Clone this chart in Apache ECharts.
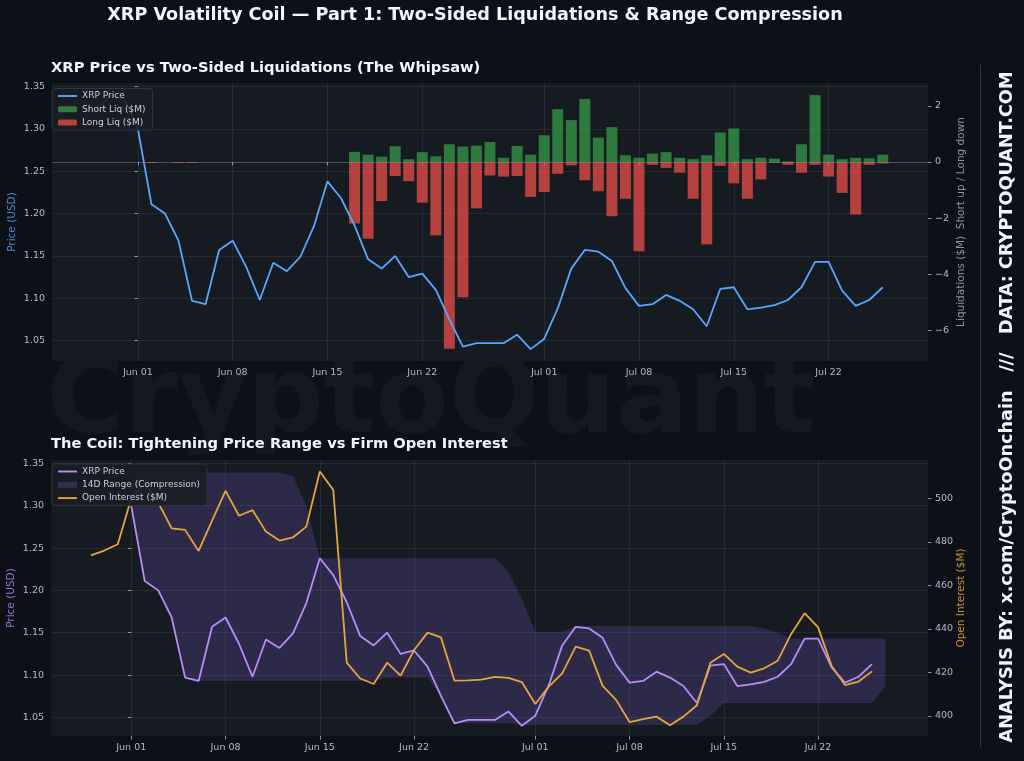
<!DOCTYPE html>
<html>
<head>
<meta charset="utf-8">
<title>XRP Volatility Coil</title>
<script src="https://cdn.jsdelivr.net/npm/echarts@6.0.0/dist/echarts.min.js"></script>
<style>
  html, body { margin: 0; padding: 0; background: #0d1117; }
  #chart { width: 1024px; height: 761px; }
</style>
</head>
<body>
<div id="chart"></div>
<script>
  // x values are days counted from Jun 01 (day 0)
  // price and open interest start on May 29
  const firstDay = -3;
  const price = [
    1.325, 1.339, 1.335,
    1.300, 1.211, 1.200, 1.168, 1.097, 1.093, 1.157, 1.168, 1.137, 1.098,
    1.142, 1.132, 1.149, 1.185, 1.238, 1.218, 1.186, 1.146, 1.135, 1.150,
    1.125, 1.129, 1.110, 1.075, 1.043, 1.047, 1.047, 1.047, 1.057, 1.040,
    1.052, 1.088, 1.135, 1.157, 1.155, 1.144, 1.112, 1.091, 1.093, 1.104,
    1.097, 1.087, 1.067, 1.111, 1.113, 1.087, 1.089, 1.092, 1.098, 1.113,
    1.143, 1.143, 1.109, 1.091, 1.098, 1.113
  ];
  const openInterest = [
    473.8, 476.0, 478.9,
    500.0, 506.9, 498.0, 486.2, 485.5, 475.8, 489.7, 503.4, 492.0, 494.6,
    484.7, 480.6, 482.0, 487.0, 512.3, 503.8, 424.5, 417.2, 414.7, 424.5,
    418.5, 430.3, 438.3, 436.1, 416.2, 416.4, 416.7, 418.0, 417.5, 415.6,
    405.5, 413.5, 419.6, 431.9, 430.0, 413.8, 407.4, 397.2, 398.5, 399.7,
    395.7, 399.7, 404.9, 424.5, 428.5, 422.7, 419.9, 421.9, 425.4, 437.7,
    447.2, 440.7, 423.0, 414.2, 415.8, 420.5
  ];

  // liquidations ($M), Jun 01 .. Jul 26; longs are drawn downward
  const shortLiq = [
    0, 0, 0, 0, 0, 0, 0, 0, 0, 0, 0, 0, 0, 0, 0, 0,
    0.36, 0.26, 0.19, 0.56, 0.10, 0.35, 0.20, 0.63, 0.55, 0.58, 0.71, 0.15, 0.57, 0.26,
    0.95, 1.88, 1.49, 2.24, 0.87, 1.24, 0.24, 0.15, 0.30, 0.35, 0.15, 0.10, 0.24,
    1.05, 1.19, 0.10, 0.15, 0.12, 0.02, 0.63, 2.38, 0.26, 0.10, 0.15, 0.13, 0.26
  ];
  const longLiq = [
    0, 0.03, 0, 0.03, 0.03, 0, 0, 0, 0, 0, 0, 0, 0, 0, 0, 0,
    2.19, 2.73, 1.39, 0.50, 0.68, 1.45, 2.61, 6.64, 4.81, 1.65, 0.48, 0.52, 0.50, 1.24,
    1.07, 0.42, 0.12, 0.65, 1.04, 1.93, 1.31, 3.18, 0.10, 0.21, 0.38, 1.31, 2.93,
    0.14, 0.76, 1.31, 0.62, 0.02, 0.10, 0.38, 0.10, 0.52, 1.10, 1.87, 0.10, 0.05
  ];

  // 14D range band, Jun 01 .. Jul 27
  const rangeHigh = [
    1.339, 1.339, 1.339, 1.339, 1.339, 1.339, 1.339, 1.339, 1.339, 1.339, 1.339, 1.339,
    1.335, 1.300,
    1.238, 1.238, 1.238, 1.238, 1.238, 1.238, 1.238, 1.238, 1.238, 1.238, 1.238, 1.238, 1.238, 1.238,
    1.222, 1.190, 1.151, 1.151, 1.151,
    1.158, 1.158, 1.158, 1.158, 1.158, 1.158, 1.158, 1.158, 1.158, 1.158, 1.158, 1.158, 1.158, 1.158,
    1.155, 1.150,
    1.143, 1.143, 1.143, 1.143, 1.143, 1.143, 1.143, 1.143
  ];
  const rangeLow = [
    1.300, 1.211, 1.200, 1.168, 1.097,
    1.093, 1.093, 1.093, 1.093, 1.093, 1.093, 1.093, 1.093, 1.093, 1.093, 1.093, 1.093, 1.093, 1.093,
    1.097, 1.097, 1.097, 1.097, 1.075,
    1.043, 1.043, 1.043, 1.043, 1.043,
    1.041, 1.041, 1.041, 1.041, 1.041, 1.041, 1.041, 1.041, 1.041, 1.041, 1.041, 1.041, 1.041, 1.041,
    1.052,
    1.067, 1.067, 1.067, 1.067, 1.067, 1.067, 1.067, 1.067, 1.067, 1.067, 1.067, 1.067,
    1.087
  ];

  const tickDays = [0, 7, 14, 21, 30, 37, 44, 51];
  const tickLabels = ['Jun 01', 'Jun 08', 'Jun 15', 'Jun 22', 'Jul 01', 'Jul 08', 'Jul 15', 'Jul 22'];
  const priceTicks = [1.05, 1.10, 1.15, 1.20, 1.25, 1.30, 1.35];
  const liqTicks = [-6, -4, -2, 0, 2];
  const oiTicks = [400, 420, 440, 460, 480, 500];

  const FONT = 'DejaVu Sans';
  const labelColor = '#b1bac4';
  const gridColor = 'rgba(240,246,252,0.07)';
  const blue = '#58a6ff';
  const purple = '#b78cf7';
  const orange = '#e3a63c';
  const bandColor = 'rgba(140,100,230,0.2)';
  // thin bar used as legend icon for the lines
  const lineIcon = 'path://M0,0L20,0L20,2L0,2Z';

  const priceData = price.map((v, i) => [firstDay + i, v]);
  const priceFromJun = priceData.filter(p => p[0] >= 0);
  const oiData = openInterest.map((v, i) => [firstDay + i, v]);
  const shortData = shortLiq.map((v, i) => [i, v]);
  const longData = longLiq.map((v, i) => [i, -v]);
  const bandData = rangeLow.map((v, i) => [i, v, rangeHigh[i]]);

  function minusSign(v) {
    return String(v).replace('-', '\u2212');
  }

  function xAxis(gridIndex, min, max) {
    return {
      type: 'value', gridIndex: gridIndex, min: min, max: max,
      axisLine: { show: false },
      axisTick: { show: true, customValues: tickDays, length: 3.5, lineStyle: { color: '#8b949e' } },
      axisLabel: {
        customValues: tickDays, color: labelColor, fontSize: 9.5, margin: 7, fontFamily: FONT,
        formatter: v => tickLabels[tickDays.indexOf(v)]
      },
      splitLine: { show: true, lineStyle: { color: gridColor, width: 1 } }
    };
  }

  function yAxis(gridIndex, pos, min, max, ticks, fmt, name, nameColor, nameGap, split) {
    return {
      type: 'value', gridIndex: gridIndex, position: pos, min: min, max: max,
      name: name, nameLocation: 'middle', nameGap: nameGap, nameRotate: 90, nameMoveOverlap: false,
      nameTextStyle: { color: nameColor, fontSize: 10.5, fontFamily: FONT },
      axisLine: { show: false },
      axisTick: { show: true, customValues: ticks, length: 3.5, lineStyle: { color: '#8b949e' } },
      axisLabel: { customValues: ticks, color: labelColor, fontSize: 9.5, margin: 7, fontFamily: FONT, formatter: fmt },
      splitLine: { show: split, lineStyle: { color: gridColor, width: 1 } }
    };
  }

  const legendBase = {
    orient: 'vertical', itemWidth: 19, itemHeight: 6, itemGap: 4.3,
    padding: [3, 7, 3, 6], backgroundColor: 'rgba(24,29,36,0.9)',
    borderColor: '#30363d', borderWidth: 1, borderRadius: 3,
    textStyle: { color: '#c9d1d9', fontSize: 9, fontFamily: FONT },
    selectedMode: false
  };

  const chart = echarts.init(document.getElementById('chart'), null, { renderer: 'canvas' });

  const option = {
    backgroundColor: '#0d1117',
    animation: false,
    textStyle: { fontFamily: FONT },
    title: [
      {
        text: 'XRP Volatility Coil \u2014 Part 1: Two-Sided Liquidations & Range Compression',
        left: 475, top: 6, textAlign: 'center', padding: 0,
        textStyle: { color: '#f0f6fc', fontSize: 17.6, fontWeight: 'bold', fontFamily: FONT }
      },
      {
        text: 'XRP Price vs Two-Sided Liquidations (The Whipsaw)',
        left: 51, top: 61, padding: 0,
        textStyle: { color: '#f0f6fc', fontSize: 14.7, fontWeight: 'bold', fontFamily: FONT }
      },
      {
        text: 'The Coil: Tightening Price Range vs Firm Open Interest',
        left: 51, top: 437, padding: 0,
        textStyle: { color: '#f0f6fc', fontSize: 14.7, fontWeight: 'bold', fontFamily: FONT }
      }
    ],
    graphic: [
      {
        type: 'text', x: 431, y: 404, z: -10, silent: true,
        style: {
          text: 'CryptoQuant', fill: 'rgba(240,246,252,0.035)', fontSize: 107,
          fontWeight: 'bold', fontFamily: FONT, align: 'center', verticalAlign: 'middle'
        }
      },
      {
        type: 'line', silent: true,
        shape: { x1: 980.5, y1: 65, x2: 980.5, y2: 747 },
        style: { stroke: '#30363d', lineWidth: 1 }
      },
      {
        type: 'text', x: 1007, y: 407, rotation: Math.PI / 2, silent: true,
        style: {
          text: 'ANALYSIS BY: x.com/CryptoOnchain   ///   DATA: CRYPTOQUANT.COM',
          fill: '#f0f6fc', fontSize: 17.7, fontWeight: 'bold', fontFamily: FONT,
          align: 'center', verticalAlign: 'middle'
        }
      }
    ],
    legend: [
      Object.assign({}, legendBase, {
        left: 52, top: 88.5,
        data: [
          { name: 'XRP Price', icon: lineIcon, itemStyle: { color: blue } },
          'Short Liq ($M)',
          'Long Liq ($M)'
        ]
      }),
      Object.assign({}, legendBase, {
        left: 52, top: 464,
        data: [
          { name: 'XRP Price', icon: lineIcon, itemStyle: { color: purple } },
          { name: '14D Range (Compression)', icon: 'rect', itemStyle: { color: 'rgba(100,80,180,0.35)' } },
          { name: 'Open Interest ($M)', icon: lineIcon, itemStyle: { color: orange } }
        ]
      })
    ],
    grid: [
      { left: 52, top: 83, width: 876, height: 278, show: true, backgroundColor: '#161b22', borderWidth: 0, outerBoundsMode: 'none' },
      { left: 51, top: 460, width: 877, height: 276, show: true, backgroundColor: '#161b22', borderWidth: 0, outerBoundsMode: 'none' }
    ],
    xAxis: [
      xAxis(0, -6.34, 58.34),
      xAxis(1, -5.96, 59.16)
    ],
    yAxis: [
      yAxis(0, 'left', 1.026, 1.354, priceTicks, v => v.toFixed(2), 'Price (USD)', 'rgba(88,166,255,0.8)', 34, true),
      yAxis(0, 'right', -7.08, 2.81, liqTicks, minusSign, 'Liquidations ($M)  Short up / Long down', '#8b949e', 28, false),
      yAxis(1, 'left', 1.028, 1.354, priceTicks, v => v.toFixed(2), 'Price (USD)', 'rgba(183,140,247,0.8)', 34, true),
      yAxis(1, 'right', 390.8, 517.6, oiTicks, v => String(v), 'Open Interest ($M)', 'rgba(227,166,60,0.85)', 28, false)
    ],
    series: [
      {
        name: 'XRP Price', type: 'line', xAxisIndex: 0, yAxisIndex: 0,
        data: priceData, symbol: 'none', lineStyle: { color: blue, width: 1.8 }, itemStyle: { color: blue }
      },
      {
        name: 'Short Liq ($M)', type: 'bar', xAxisIndex: 0, yAxisIndex: 1,
        data: shortData, barWidth: 11, barGap: '-100%', itemStyle: { color: 'rgba(63,185,80,0.6)' }
      },
      {
        name: 'Long Liq ($M)', type: 'bar', xAxisIndex: 0, yAxisIndex: 1,
        data: longData, barWidth: 11, barGap: '-100%', itemStyle: { color: 'rgba(248,81,73,0.7)' },
        markLine: {
          silent: true, symbol: 'none', label: { show: false },
          lineStyle: { color: 'rgba(139,148,158,0.45)', type: 'solid', width: 1 },
          data: [{ yAxis: 0 }]
        }
      },
      {
        name: '14D Range (Compression)', type: 'custom', xAxisIndex: 1, yAxisIndex: 2,
        data: bandData, encode: { x: 0, y: [1, 2] }, clip: true, silent: true,
        itemStyle: { color: 'rgba(100,80,180,0.35)' },
        renderItem: function (params, api) {
          if (params.dataIndex !== 0) return null;
          const pts = [];
          for (let i = 0; i < bandData.length; i++) pts.push(api.coord([bandData[i][0], bandData[i][2]]));
          for (let i = bandData.length - 1; i >= 0; i--) pts.push(api.coord([bandData[i][0], bandData[i][1]]));
          return { type: 'polygon', shape: { points: pts }, style: { fill: bandColor } };
        }
      },
      {
        name: 'XRP Price', type: 'line', xAxisIndex: 1, yAxisIndex: 2,
        data: priceFromJun, symbol: 'none', lineStyle: { color: purple, width: 1.8 }, itemStyle: { color: purple }
      },
      {
        name: 'Open Interest ($M)', type: 'line', xAxisIndex: 1, yAxisIndex: 3,
        data: oiData, symbol: 'none', lineStyle: { color: orange, width: 1.8 }, itemStyle: { color: orange }
      }
    ]
  };

  chart.setOption(option);
</script>
</body>
</html>
